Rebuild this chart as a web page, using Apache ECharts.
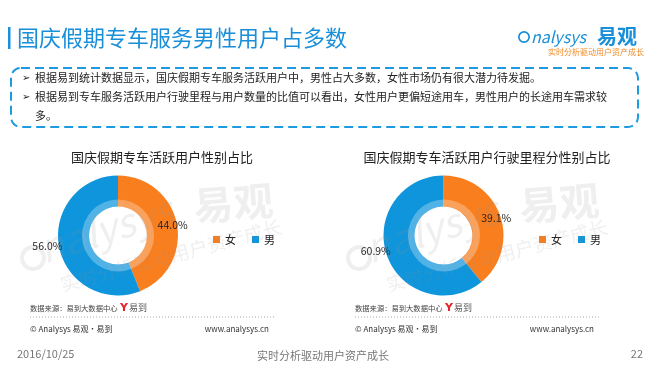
<!DOCTYPE html>
<html><head><meta charset="utf-8">
<script src="https://cdn.jsdelivr.net/npm/echarts@6/dist/echarts.min.js"></script>
<style>html,body{margin:0;padding:0;background:#fff}#c{width:650px;height:366px}</style>
</head><body><div id="c"></div>
<script>
// ---- data ----
const genders = ['女', '男'];
const userShare = [44.0, 56.0];      // 国庆假期专车活跃用户性别占比
const mileageShare = [39.1, 60.9];   // 国庆假期专车活跃用户行驶里程分性别占比
const chartTitles = ['国庆假期专车活跃用户性别占比', '国庆假期专车活跃用户行驶里程分性别占比'];
const pageTitle = '国庆假期专车服务男性用户占多数';
const bullets = [
  '根据易到统计数据显示，国庆假期专车服务活跃用户中，男性占大多数，女性市场仍有很大潜力待发掘。',
  '根据易到专车服务活跃用户行驶里程与用户数量的比值可以看出，女性用户更偏短途用车，男性用户的长途用车需求较',
  '多。'
];

const FONT = '"Noto Sans CJK SC", "Noto Sans", sans-serif';
const COLORS = ['#F97E1E', '#0E95DC'];
const chart = echarts.init(document.getElementById('c'), null, {renderer: 'canvas'});

function pieSeries(vals, cx, offsets) {
  return {
    type: 'pie', center: [cx, 235.5], radius: [29, 60], startAngle: 90, clockwise: true,
    avoidLabelOverlap: false, silent: true,
    itemStyle: {borderWidth: 0},
    label: {show: true, position: 'inside', color: '#222', fontSize: 10.5, fontFamily: FONT,
      formatter: p => p.value.toFixed(1) + '%'},
    labelLine: {show: false},
    data: vals.map((v, i) => ({name: genders[i], value: v, itemStyle: {color: COLORS[i]},
      label: {offset: offsets[i]}}))
  };
}

function wmText(x, y, rot, text, size, weight, style) {
  return {type: 'text', x: x, y: y, rotation: rot, z: 50, silent: true,
    style: {text: text, font: style + ' ' + weight + ' ' + size + 'px ' + FONT,
      fill: 'rgba(150,150,150,0.15)', textVerticalAlign: 'bottom'}};
}

function watermark(dx) {
  return [
    {type: 'ring', shape: {cx: 33 + dx, cy: 258, r: 13, r0: 9}, z: 50, silent: true,
      style: {fill: 'rgba(150,150,150,0.15)'}},
    wmText(46 + dx, 268, 0.3, 'nalysys', 40, 'normal', 'italic'),
    wmText(195 + dx, 226, 0.08, '易观', 40, 'bold', 'normal'),
    wmText(63 + dx, 294, 0.26, '实时分析驱动用户资产成长', 19, 'normal', 'normal'),
    {type: 'ring', shape: {cx: 118 + dx, cy: 235.5, r: 36, r0: 29}, z: 50, silent: true,
      style: {fill: 'rgba(255,255,255,0.28)'}}
  ];
}

function sourceBlock(dx) {
  return [
    {type: 'text', x: 30 + dx, y: 308, style: {text: '数据来源：易到大数据中心', font: '7.3px ' + FONT, fill: '#444', textVerticalAlign: 'middle'}},
    {type: 'text', x: 120 + dx, y: 308, style: {text: 'Y', font: 'bold 11px "DejaVu Sans"', fill: '#e8222b', textVerticalAlign: 'middle'}},
    {type: 'text', x: 129 + dx, y: 308, style: {text: '易到', font: '9px ' + FONT, fill: '#555', textVerticalAlign: 'middle'}},
    {type: 'line', shape: {x1: 30 + dx, y1: 317, x2: 274 + dx, y2: 317}, style: {stroke: '#aaa', lineWidth: 1, lineDash: [1, 2]}},
    {type: 'text', x: 30 + dx, y: 329, style: {text: '© Analysys 易观·易到', font: '8px ' + FONT, fill: '#333', textVerticalAlign: 'middle'}},
    {type: 'text', x: 269 + dx, y: 329, style: {text: 'www.analysys.cn', font: '8px ' + FONT, fill: '#333', textAlign: 'right', textVerticalAlign: 'middle'}}
  ];
}

const option = {
  backgroundColor: '#fff',
  animation: false,
  title: [
    {text: chartTitles[0], left: 157, top: 146, textAlign: 'center',
      textStyle: {fontSize: 13, fontWeight: 'normal', color: '#222', fontFamily: FONT}},
    {text: chartTitles[1], left: 482, top: 146, textAlign: 'center',
      textStyle: {fontSize: 13, fontWeight: 'normal', color: '#222', fontFamily: FONT}}
  ],
  legend: [
    {seriesIndex: 0, data: genders, left: 208, top: 229, icon: 'rect', itemWidth: 7, itemHeight: 7, itemGap: 16,
      textStyle: {fontSize: 11, color: '#222', fontFamily: FONT}, selectedMode: false},
    {data: genders, left: 534, top: 229, icon: 'rect', itemWidth: 7, itemHeight: 7, itemGap: 16,
      textStyle: {fontSize: 11, color: '#222', fontFamily: FONT}, selectedMode: false}
  ],
  series: [
    pieSeries(userShare, 118, [[8, -2], [-24, 2]]),
    pieSeries(mileageShare, 443.5, [[8, -2], [-23, 0]])
  ],
  graphic: [
    {type: 'rect', shape: {x: 8, y: 27, width: 2.5, height: 22}, style: {fill: '#1a8fd9'}},
    {type: 'text', x: 17, y: 38, style: {text: pageTitle, font: '22px ' + FONT, fill: '#1a8fd9', textVerticalAlign: 'middle'}},
    {type: 'ring', shape: {cx: 524, cy: 37, r: 6, r0: 4.3}, style: {fill: '#1a8fd9'}},
    {type: 'text', x: 531, y: 37, style: {text: 'nalysys', font: 'italic 16px ' + FONT, fill: '#1a8fd9', textVerticalAlign: 'middle'}},
    {type: 'text', x: 597, y: 36, style: {text: '易观', font: 'bold 20px ' + FONT, fill: '#1a8fd9', textVerticalAlign: 'middle'}},
    {type: 'text', x: 644, y: 52, style: {text: '实时分析驱动用户资产成长', font: '8px ' + FONT, fill: '#f08a24', textAlign: 'right', textVerticalAlign: 'middle'}},
    {type: 'rect', shape: {x: 11, y: 68, width: 627, height: 59, r: 10}, style: {fill: 'none', stroke: '#1e9be0', lineWidth: 2, lineDash: [9, 5]}},
    {type: 'text', x: 22, y: 78, style: {text: '➢', font: '10px "DejaVu Sans"', fill: '#222', textVerticalAlign: 'middle'}},
    {type: 'text', x: 35, y: 78, style: {text: bullets[0], font: '11px ' + FONT, fill: '#222', textVerticalAlign: 'middle'}},
    {type: 'text', x: 22, y: 97, style: {text: '➢', font: '10px "DejaVu Sans"', fill: '#222', textVerticalAlign: 'middle'}},
    {type: 'text', x: 35, y: 97, style: {text: bullets[1], font: '11px ' + FONT, fill: '#222', textVerticalAlign: 'middle'}},
    {type: 'text', x: 35, y: 116, style: {text: bullets[2], font: '11px ' + FONT, fill: '#222', textVerticalAlign: 'middle'}},
    ...watermark(0), ...watermark(326),
    ...sourceBlock(0), ...sourceBlock(325),
    {type: 'text', x: 17, y: 354, style: {text: '2016/10/25', font: '11px ' + FONT, fill: '#777', textVerticalAlign: 'middle'}},
    {type: 'text', x: 323, y: 356, style: {text: '实时分析驱动用户资产成长', font: '11px ' + FONT, fill: '#777', textAlign: 'center', textVerticalAlign: 'middle'}},
    {type: 'text', x: 643, y: 354, style: {text: '22', font: '11px ' + FONT, fill: '#777', textAlign: 'right', textVerticalAlign: 'middle'}}
  ]
};
chart.setOption(option);
</script>
</body></html>
